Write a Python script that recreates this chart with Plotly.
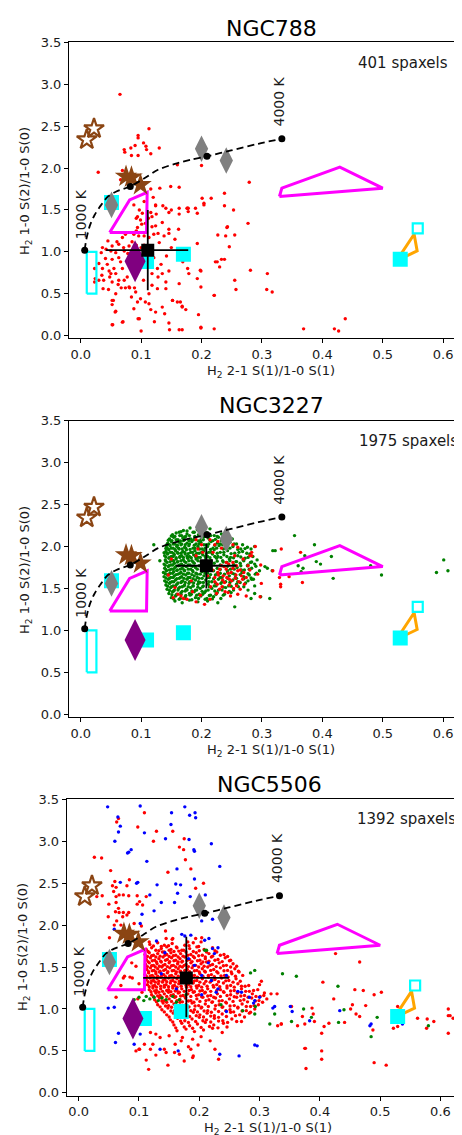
import plotly.graph_objects as go

W, H = 462, 1135

galaxies = ["NGC788", "NGC3227", "NGC5506"]
spaxel_labels = ["401 spaxels", "1975 spaxels", "1392 spaxels"]

x_ticks = [0.0, 0.1, 0.2, 0.3, 0.4, 0.5, 0.6]
x_ticklabels = ["0.0", "0.1", "0.2", "0.3", "0.4", "0.5", "0.6"]
y_ticks = [0.0, 0.5, 1.0, 1.5, 2.0, 2.5, 3.0, 3.5]
y_ticklabels = ["0.0", "0.5", "1.0", "1.5", "2.0", "2.5", "3.0", "3.5"]

# thermal emission curve (1000 K - 4000 K)
therm_x = [0.0066, 0.0093, 0.015, 0.023, 0.034, 0.045, 0.059, 0.082, 0.106, 0.128, 0.156, 0.183, 0.209, 0.249, 0.294, 0.333]
therm_y = [1.02, 1.15, 1.31, 1.44, 1.56, 1.66, 1.72, 1.78, 1.88, 1.98, 2.05, 2.10, 2.14, 2.21, 2.29, 2.35]
therm_dot_x = [0.0066, 0.082, 0.209, 0.333]
therm_dot_y = [1.02, 1.78, 2.14, 2.35]

# reference models / objects
open_star_x = [0.010, 0.022]
open_star_y = [2.34, 2.47]
star_x = [0.075, 0.084, 0.099]
star_y = [1.90, 1.89, 1.80]
gray_diamond_x = [0.051, 0.200, 0.241]
gray_diamond_y = [1.56, 2.23, 2.09]
cyan_sq_x = [0.051, 0.109, 0.170, 0.529]
cyan_sq_y = [1.59, 0.885, 0.97, 0.91]
cyan_open_x = [0.558]
cyan_open_y = [1.28]
purple_x = [0.090]
purple_y = [0.886]
cyan_rect_x = [0.010, 0.026, 0.026, 0.010, 0.010]
cyan_rect_y = [0.50, 0.50, 1.00, 1.00, 0.50]
mag1_x = [0.048, 0.081, 0.110, 0.109, 0.048]
mag1_y = [1.23, 1.62, 1.71, 1.23, 1.23]
mag2_x = [0.329, 0.333, 0.429, 0.500, 0.329]
mag2_y = [1.66, 1.76, 2.01, 1.76, 1.66]
orange_x = [0.523, 0.552, 0.557, 0.523]
orange_y = [0.894, 1.21, 1.01, 0.894]

# medians with ranges
med_x = [0.111, 0.208, 0.1785]
med_y = [1.02, 1.77, 1.37]
med_xlo = [0.042, 0.158, 0.107]
med_xhi = [0.178, 0.258, 0.249]
med_ylo = [0.54, 1.50, 0.90]
med_yhi = [1.50, 2.03, 1.86]

# ---------------- NGC788 spaxels (red) ----------------
ngc788_red = [
    (0.065, 2.88), (0.113, 2.47), (0.095, 2.39), (0.095, 2.36), (0.104, 2.30), (0.090, 2.27), (0.083, 2.24),
    (0.072, 2.22), (0.073, 2.19), (0.109, 2.22), (0.130, 2.24), (0.116, 2.17), (0.095, 2.15), (0.084, 2.15),
    (0.108, 2.26), (0.029, 1.95), (0.069, 1.97), (0.066, 1.86), (0.160, 2.04), (0.200, 2.03), (0.116, 1.75),
    (0.131, 1.76), (0.149, 1.78), (0.163, 1.77), (0.279, 1.83), (0.238, 1.70), (0.216, 1.64), (0.201, 1.64),
    (0.204, 1.58), (0.238, 1.55), (0.253, 1.50), (0.193, 1.46), (0.178, 1.52), (0.150, 1.50), (0.163, 1.45),
    (0.124, 1.56), (0.136, 1.55), (0.163, 1.52), (0.176, 1.52), (0.190, 1.52), (0.178, 1.48), (0.277, 1.34),
    (0.242, 1.29), (0.255, 1.20), (0.227, 1.20), (0.193, 1.10), (0.162, 1.27), (0.146, 1.22), (0.226, 0.88),
    (0.233, 0.91), (0.238, 0.91), (0.198, 0.78), (0.281, 0.78), (0.309, 0.74), (0.179, 0.74), (0.255, 0.66),
    (0.257, 0.55), (0.308, 0.55), (0.317, 0.52), (0.221, 0.48), (0.195, 0.25), (0.199, 0.09), (0.221, 0.08),
    (0.369, 0.08), (0.420, 0.08), (0.427, 0.055), (0.438, 0.20), (0.168, 0.07), (0.147, 0.07), (0.100, 0.055),
    (0.139, 0.26), (0.168, 0.35), (0.165, 0.40), (0.152, 0.42), (0.135, 0.34), (0.122, 0.165), (0.095, 0.20),
    (0.070, 0.165), (0.053, 0.13), (0.057, 0.28), (0.052, 0.37), (0.054, 0.42), (0.074, 0.57), (0.081, 0.57),
    (0.089, 0.57), (0.067, 0.57), (0.037, 0.56), (0.024, 0.68), (0.023, 0.80), (0.243, 1.30), (0.240, 1.19),
    (0.246, 1.06), (0.230, 0.82),
    (0.088, 1.56), (0.097, 1.50), (0.102, 1.46), (0.094, 1.42), (0.099, 1.38), (0.107, 1.34), (0.118, 1.42),
    (0.116, 1.47), (0.094, 1.29), (0.088, 1.21), (0.096, 1.19), (0.105, 1.19), (0.113, 1.17), (0.121, 1.21),
    (0.124, 1.31), (0.074, 1.21), (0.069, 1.17), (0.052, 1.07), (0.063, 1.09), (0.036, 1.05), (0.050, 1.01),
    (0.058, 0.99), (0.072, 1.01), (0.080, 1.07), (0.063, 0.93), (0.052, 0.91), (0.044, 0.85), (0.036, 0.80),
    (0.047, 0.77), (0.058, 0.74), (0.069, 0.80), (0.072, 0.66), (0.063, 0.66), (0.052, 0.64), (0.038, 0.66),
    (0.030, 0.66), (0.080, 0.58), (0.091, 0.52), (0.099, 0.44), (0.107, 0.40), (0.094, 0.40), (0.113, 0.38),
    (0.052, 0.42), (0.058, 0.29), (0.069, 0.16), (0.052, 0.13), (0.097, 0.20), (0.116, 0.31), (0.127, 0.56),
    (0.141, 0.64), (0.141, 0.56), (0.152, 0.42), (0.160, 0.40), (0.168, 0.34), (0.163, 0.62), (0.146, 0.77),
    (0.127, 0.80), (0.135, 0.74), (0.118, 0.74), (0.110, 0.88), (0.121, 0.93), (0.130, 1.11), (0.138, 1.19),
    (0.146, 1.27), (0.146, 1.47), (0.141, 1.52), (0.124, 1.55), (0.169, 0.88), (0.177, 0.80), (0.199, 0.77),
    (0.193, 0.68), (0.199, 0.58), (0.223, 0.88), (0.221, 0.48), (0.174, 0.31), (0.146, 0.15), (0.163, 0.07),
    (0.199, 0.10), (0.204, 1.56), (0.177, 1.52), (0.092, 1.08), (0.100, 1.05), (0.083, 0.91), (0.042, 1.03),
    (0.034, 0.99), (0.023, 0.64), (0.050, 0.74),
    (0.060, 1.12), (0.071, 1.05), (0.078, 0.98), (0.085, 1.12), (0.092, 1.25), (0.101, 1.33), (0.112, 1.40),
    (0.118, 1.30), (0.105, 1.08), (0.097, 0.95), (0.066, 0.88), (0.055, 0.80), (0.048, 0.70), (0.062, 0.61),
    (0.077, 0.70), (0.087, 0.75), (0.104, 0.66), (0.118, 0.60), (0.128, 0.70), (0.133, 0.85), (0.142, 0.95),
    (0.150, 1.05), (0.156, 1.15), (0.135, 1.35), (0.125, 1.45), (0.120, 1.65), (0.105, 1.60), (0.128, 1.22),
    (0.092, 1.40), (0.041, 0.92), (0.045, 1.13), (0.030, 0.86), (0.035, 0.72), (0.058, 0.50), (0.046, 0.55),
    (0.084, 0.46), (0.113, 0.50), (0.124, 0.28), (0.088, 0.32),
]

# ---------------- NGC3227 spaxels ----------------
ngc3227_green = [
    (0.170, 2.19), (0.181, 2.22), (0.193, 2.20), (0.204, 2.18), (0.214, 2.21), (0.163, 2.17),
    (0.152, 2.14), (0.158, 2.16), (0.167, 2.13), (0.176, 2.15), (0.186, 2.17), (0.195, 2.14), (0.207, 2.16),
    (0.221, 2.13), (0.233, 2.15), (0.243, 2.12),
    (0.147, 2.09), (0.154, 2.11), (0.161, 2.08), (0.169, 2.10), (0.174, 2.12), (0.182, 2.09), (0.190, 2.11),
    (0.199, 2.08), (0.211, 2.10), (0.219, 2.07), (0.228, 2.11), (0.239, 2.08), (0.251, 2.09),
    (0.144, 2.04), (0.150, 2.06), (0.156, 2.03), (0.163, 2.05), (0.170, 2.07), (0.176, 2.04), (0.184, 2.06),
    (0.191, 2.03), (0.199, 2.05), (0.208, 2.02), (0.216, 2.06), (0.226, 2.04), (0.235, 2.02), (0.247, 2.05),
    (0.258, 2.03),
    (0.142, 1.99), (0.148, 2.01), (0.153, 1.98), (0.159, 2.00), (0.166, 2.02), (0.172, 1.99), (0.179, 2.01),
    (0.186, 1.98), (0.194, 2.00), (0.201, 1.97), (0.210, 2.00), (0.219, 1.98), (0.229, 2.01), (0.240, 1.98),
    (0.252, 2.00), (0.265, 1.97), (0.276, 1.99),
    (0.141, 1.94), (0.146, 1.96), (0.151, 1.93), (0.157, 1.95), (0.163, 1.97), (0.169, 1.94), (0.175, 1.96),
    (0.182, 1.93), (0.189, 1.95), (0.196, 1.92), (0.204, 1.95), (0.212, 1.93), (0.221, 1.96), (0.231, 1.93),
    (0.243, 1.95), (0.255, 1.92), (0.268, 1.94), (0.280, 1.91),
    (0.139, 1.89), (0.144, 1.91), (0.150, 1.88), (0.155, 1.90), (0.161, 1.92), (0.167, 1.89), (0.173, 1.91),
    (0.180, 1.88), (0.187, 1.90), (0.194, 1.87), (0.202, 1.90), (0.210, 1.88), (0.218, 1.91), (0.227, 1.88),
    (0.237, 1.90), (0.248, 1.87), (0.260, 1.89), (0.272, 1.86), (0.285, 1.88),
    (0.140, 1.84), (0.146, 1.86), (0.152, 1.83), (0.158, 1.85), (0.164, 1.87), (0.170, 1.84), (0.177, 1.86),
    (0.184, 1.83), (0.191, 1.85), (0.199, 1.82), (0.207, 1.85), (0.216, 1.83), (0.225, 1.86), (0.235, 1.83),
    (0.246, 1.85), (0.257, 1.82), (0.269, 1.84), (0.281, 1.81), (0.292, 1.84),
    (0.138, 1.79), (0.143, 1.81), (0.149, 1.78), (0.155, 1.80), (0.161, 1.82), (0.167, 1.79), (0.174, 1.81),
    (0.181, 1.78), (0.188, 1.80), (0.196, 1.77), (0.221, 1.80), (0.231, 1.78), (0.242, 1.81), (0.253, 1.78),
    (0.264, 1.80), (0.276, 1.77), (0.288, 1.79),
    (0.139, 1.74), (0.145, 1.76), (0.150, 1.73), (0.156, 1.75), (0.162, 1.77), (0.168, 1.74), (0.175, 1.76),
    (0.182, 1.73), (0.190, 1.75), (0.226, 1.74), (0.237, 1.76), (0.248, 1.73), (0.259, 1.75), (0.271, 1.72),
    (0.283, 1.74), (0.296, 1.71),
    (0.137, 1.69), (0.142, 1.71), (0.148, 1.68), (0.154, 1.70), (0.160, 1.72), (0.166, 1.69), (0.172, 1.71),
    (0.179, 1.68), (0.186, 1.70), (0.193, 1.67), (0.201, 1.70), (0.210, 1.68), (0.220, 1.71), (0.231, 1.68),
    (0.243, 1.70), (0.255, 1.67), (0.267, 1.69), (0.279, 1.66), (0.291, 1.68),
    (0.138, 1.64), (0.144, 1.66), (0.149, 1.63), (0.155, 1.65), (0.161, 1.67), (0.167, 1.64), (0.174, 1.66),
    (0.181, 1.63), (0.188, 1.65), (0.196, 1.62), (0.204, 1.65), (0.213, 1.63), (0.223, 1.66), (0.234, 1.63),
    (0.246, 1.65), (0.258, 1.62), (0.270, 1.64), (0.283, 1.61),
    (0.139, 1.59), (0.145, 1.61), (0.151, 1.58), (0.157, 1.60), (0.163, 1.62), (0.169, 1.59), (0.176, 1.61),
    (0.183, 1.58), (0.190, 1.60), (0.198, 1.57), (0.207, 1.60), (0.217, 1.58), (0.228, 1.61), (0.240, 1.58),
    (0.252, 1.60), (0.264, 1.57), (0.277, 1.59),
    (0.141, 1.54), (0.147, 1.56), (0.153, 1.53), (0.159, 1.55), (0.166, 1.57), (0.172, 1.54), (0.179, 1.56),
    (0.186, 1.53), (0.194, 1.55), (0.202, 1.52), (0.211, 1.55), (0.221, 1.53), (0.232, 1.56), (0.245, 1.53),
    (0.258, 1.55), (0.270, 1.52),
    (0.143, 1.49), (0.149, 1.51), (0.155, 1.48), (0.162, 1.50), (0.168, 1.52), (0.175, 1.49), (0.182, 1.51),
    (0.190, 1.48), (0.198, 1.50), (0.207, 1.47), (0.217, 1.50), (0.228, 1.48), (0.240, 1.51), (0.253, 1.48),
    (0.146, 1.44), (0.152, 1.46), (0.159, 1.43), (0.166, 1.45), (0.173, 1.47), (0.180, 1.44), (0.188, 1.46),
    (0.196, 1.43), (0.205, 1.45), (0.215, 1.42), (0.226, 1.45), (0.238, 1.43), (0.249, 1.45),
    (0.150, 1.39), (0.157, 1.41), (0.165, 1.38), (0.173, 1.40), (0.181, 1.42), (0.190, 1.39), (0.199, 1.41),
    (0.209, 1.38), (0.220, 1.40), (0.232, 1.38),
    (0.156, 1.35), (0.168, 1.33), (0.180, 1.36), (0.194, 1.34), (0.210, 1.35), (0.227, 1.33), (0.255, 1.28),
    (0.121, 2.02), (0.131, 1.83), (0.318, 1.95), (0.317, 1.71), (0.298, 1.40), (0.277, 1.48), (0.286, 1.61),
    (0.288, 1.53),
    (0.354, 2.13), (0.322, 1.95), (0.387, 2.02), (0.371, 1.89), (0.415, 1.88), (0.390, 1.82), (0.397, 1.79),
    (0.360, 1.77), (0.368, 1.74), (0.365, 1.70), (0.418, 1.62), (0.498, 1.66), (0.480, 1.77), (0.288, 2.00),
    (0.282, 1.97), (0.305, 1.76), (0.309, 1.74), (0.313, 1.38), (0.288, 1.44), (0.282, 1.38), (0.601, 1.84),
    (0.589, 1.69), (0.608, 1.71), (0.622, 1.76), (0.629, 1.75), (0.624, 1.71),
]
ngc3227_green_fill = [
    (0.166, 2.175), (0.176, 2.185), (0.188, 2.17), (0.199, 2.18), (0.209, 2.165),
    (0.150, 2.125), (0.156, 2.12), (0.164, 2.13), (0.172, 2.115), (0.180, 2.13), (0.189, 2.12), (0.197, 2.13),
    (0.204, 2.115), (0.215, 2.13), (0.226, 2.12), (0.236, 2.13),
    (0.145, 2.075), (0.151, 2.07), (0.158, 2.08), (0.165, 2.065), (0.172, 2.08), (0.179, 2.07), (0.187, 2.08),
    (0.195, 2.065), (0.203, 2.08), (0.214, 2.07), (0.223, 2.085), (0.233, 2.07), (0.245, 2.08),
    (0.143, 2.025), (0.147, 2.02), (0.153, 2.03), (0.160, 2.015), (0.167, 2.03), (0.173, 2.02), (0.180, 2.03),
    (0.188, 2.015), (0.196, 2.03), (0.204, 2.02), (0.212, 2.03), (0.222, 2.015), (0.231, 2.03), (0.242, 2.02),
    (0.254, 2.03), (0.268, 2.02),
    (0.141, 1.975), (0.145, 1.97), (0.150, 1.98), (0.156, 1.965), (0.162, 1.98), (0.168, 1.97), (0.174, 1.98),
    (0.181, 1.965), (0.189, 1.98), (0.197, 1.97), (0.206, 1.98), (0.215, 1.965), (0.225, 1.98), (0.236, 1.97),
    (0.247, 1.98), (0.260, 1.965), (0.272, 1.975),
    (0.138, 1.925), (0.143, 1.92), (0.148, 1.93), (0.154, 1.915), (0.160, 1.93), (0.166, 1.92), (0.172, 1.93),
    (0.178, 1.915), (0.185, 1.93), (0.192, 1.92), (0.200, 1.93), (0.208, 1.915), (0.216, 1.93), (0.226, 1.92),
    (0.237, 1.93), (0.249, 1.915), (0.262, 1.93), (0.275, 1.92),
    (0.141, 1.875), (0.147, 1.87), (0.153, 1.88), (0.158, 1.865), (0.164, 1.88), (0.170, 1.87), (0.176, 1.88),
    (0.183, 1.865), (0.190, 1.88), (0.198, 1.87), (0.206, 1.88), (0.214, 1.865), (0.222, 1.88), (0.232, 1.87),
    (0.242, 1.88), (0.253, 1.865), (0.265, 1.875), (0.277, 1.87),
    (0.141, 1.825), (0.148, 1.82), (0.154, 1.83), (0.160, 1.815), (0.166, 1.83), (0.172, 1.82), (0.179, 1.83),
    (0.186, 1.815), (0.194, 1.83), (0.226, 1.825), (0.236, 1.815), (0.247, 1.83), (0.258, 1.82), (0.270, 1.83),
    (0.283, 1.815),
    (0.140, 1.775), (0.146, 1.77), (0.152, 1.78), (0.158, 1.765), (0.164, 1.78), (0.171, 1.77), (0.178, 1.78),
    (0.185, 1.765), (0.232, 1.775), (0.243, 1.765), (0.254, 1.78), (0.265, 1.77), (0.277, 1.78), (0.290, 1.765),
    (0.141, 1.725), (0.147, 1.72), (0.153, 1.73), (0.159, 1.715), (0.165, 1.73), (0.171, 1.72), (0.178, 1.73),
    (0.185, 1.715), (0.193, 1.73), (0.200, 1.725), (0.231, 1.725), (0.243, 1.715), (0.254, 1.73), (0.266, 1.72),
    (0.279, 1.73),
    (0.140, 1.675), (0.146, 1.67), (0.152, 1.68), (0.158, 1.665), (0.164, 1.68), (0.170, 1.67), (0.177, 1.68),
    (0.184, 1.665), (0.191, 1.68), (0.198, 1.67), (0.206, 1.68), (0.215, 1.665), (0.226, 1.68), (0.238, 1.67),
    (0.251, 1.68), (0.264, 1.665), (0.277, 1.675), (0.289, 1.67),
    (0.141, 1.625), (0.147, 1.62), (0.153, 1.63), (0.159, 1.615), (0.165, 1.63), (0.171, 1.62), (0.178, 1.63),
    (0.186, 1.615), (0.193, 1.63), (0.201, 1.62), (0.210, 1.63), (0.220, 1.615), (0.231, 1.63), (0.243, 1.62),
    (0.256, 1.63), (0.270, 1.615), (0.282, 1.625),
    (0.142, 1.575), (0.148, 1.57), (0.154, 1.58), (0.161, 1.565), (0.167, 1.58), (0.173, 1.57), (0.180, 1.58),
    (0.187, 1.565), (0.195, 1.58), (0.203, 1.57), (0.212, 1.58), (0.223, 1.565), (0.234, 1.58), (0.247, 1.57),
    (0.260, 1.58), (0.273, 1.565),
    (0.144, 1.525), (0.150, 1.52), (0.157, 1.53), (0.164, 1.515), (0.171, 1.53), (0.178, 1.52), (0.186, 1.53),
    (0.194, 1.515), (0.203, 1.53), (0.213, 1.52), (0.224, 1.53), (0.236, 1.515), (0.249, 1.525), (0.261, 1.52),
    (0.147, 1.475), (0.154, 1.47), (0.161, 1.48), (0.168, 1.465), (0.176, 1.48), (0.184, 1.47), (0.192, 1.48),
    (0.201, 1.465), (0.211, 1.48), (0.222, 1.47), (0.234, 1.48), (0.246, 1.465),
    (0.151, 1.425), (0.158, 1.42), (0.166, 1.43), (0.174, 1.415), (0.183, 1.43), (0.192, 1.42), (0.202, 1.43),
    (0.213, 1.415), (0.224, 1.43), (0.236, 1.42),
    (0.154, 1.375), (0.163, 1.37), (0.173, 1.38), (0.184, 1.365), (0.195, 1.38), (0.206, 1.37), (0.218, 1.375),
]
ngc3227_red = [
    (0.191, 2.08), (0.200, 2.02), (0.194, 1.97), (0.202, 1.93), (0.191, 1.89), (0.214, 2.08), (0.222, 2.02),
    (0.227, 2.06), (0.233, 1.77), (0.241, 1.73), (0.249, 1.69), (0.260, 1.71), (0.266, 1.65), (0.246, 1.61),
    (0.238, 1.57), (0.258, 1.53), (0.271, 1.55), (0.277, 1.77), (0.252, 1.81), (0.230, 1.49), (0.244, 1.45),
    (0.260, 1.43), (0.222, 1.63), (0.227, 1.69), (0.236, 1.65), (0.241, 1.81), (0.255, 1.89), (0.260, 1.99),
    (0.269, 1.85), (0.283, 1.89), (0.274, 1.41), (0.214, 1.37), (0.205, 1.31), (0.191, 1.34), (0.161, 1.43),
    (0.153, 1.39), (0.170, 1.38), (0.156, 1.51), (0.183, 1.59), (0.145, 1.66), (0.150, 1.85), (0.219, 1.93),
    (0.252, 2.02), (0.233, 1.98),
    (0.230, 1.73), (0.238, 1.76), (0.245, 1.79), (0.252, 1.74), (0.258, 1.77), (0.264, 1.72), (0.270, 1.69),
    (0.235, 1.60), (0.242, 1.63), (0.250, 1.59), (0.256, 1.62), (0.262, 1.58), (0.268, 1.61), (0.226, 1.55),
    (0.234, 1.52), (0.246, 1.54), (0.253, 1.50), (0.264, 1.49), (0.222, 1.58), (0.228, 1.66), (0.244, 1.68),
    (0.257, 1.66), (0.218, 1.72), (0.210, 1.65), (0.215, 1.52), (0.274, 1.63), (0.280, 1.72), (0.239, 1.46),
    (0.248, 1.41), (0.225, 1.44), (0.198, 1.42), (0.185, 1.46), (0.166, 1.41), (0.176, 1.37),
    (0.332, 1.97), (0.364, 1.93), (0.318, 1.71), (0.329, 1.63), (0.331, 1.55), (0.331, 1.52), (0.345, 1.64),
    (0.367, 1.57), (0.298, 1.78), (0.293, 1.67), (0.299, 1.56), (0.297, 1.40), (0.283, 1.93), (0.280, 1.89),
    (0.289, 2.00),
]

# ---------------- NGC5506 spaxels ----------------
ngc5506_green = [
    (0.092, 1.11), (0.100, 1.14), (0.108, 1.10), (0.112, 1.15), (0.118, 1.12), (0.125, 1.14), (0.132, 1.10),
    (0.138, 1.13), (0.145, 1.11), (0.156, 1.15), (0.162, 1.08), (0.167, 1.11), (0.178, 1.17), (0.209, 1.70),
    (0.236, 1.05), (0.272, 0.98), (0.212, 1.70),
    (0.285, 1.43), (0.292, 1.46), (0.338, 1.42), (0.361, 1.39), (0.430, 1.27), (0.373, 1.00), (0.353, 0.85),
    (0.386, 0.90), (0.495, 0.90), (0.485, 0.67), (0.431, 0.84), (0.440, 0.99), (0.626, 1.03), (0.645, 0.90),
    (0.580, 0.80), (0.325, 0.94), (0.317, 0.82), (0.292, 0.94), (0.293, 1.03),
]
ngc5506_red = [
    # upper sparse region
    (0.109, 3.34), (0.066, 3.27), (0.063, 3.23), (0.098, 3.17), (0.129, 3.12), (0.156, 3.12), (0.124, 3.00),
    (0.175, 3.03), (0.167, 2.93), (0.174, 2.90), (0.177, 2.78), (0.026, 2.81), (0.038, 2.80), (0.053, 2.65),
    (0.148, 2.63), (0.186, 2.67), (0.207, 2.50), (0.194, 2.44), (0.060, 2.52), (0.056, 2.47), (0.062, 2.45),
    (0.058, 2.40), (0.067, 2.36), (0.062, 2.34), (0.084, 2.54), (0.080, 2.47), (0.074, 2.36), (0.083, 2.35),
    (0.097, 2.35), (0.112, 2.34), (0.101, 2.28), (0.039, 2.35), (0.030, 2.34), (0.050, 2.25), (0.062, 2.27),
    (0.066, 2.20), (0.061, 2.16), (0.067, 2.15), (0.074, 2.15), (0.083, 2.15), (0.080, 2.12), (0.073, 2.10),
    (0.097, 2.25), (0.106, 2.24), (0.049, 2.10), (0.063, 2.05), (0.059, 2.00), (0.070, 2.00), (0.092, 2.02),
    (0.104, 1.99), (0.051, 1.85), (0.144, 1.93), (0.156, 1.84), (0.194, 1.84), (0.204, 1.85), (0.117, 1.80),
    (0.145, 1.84), (0.155, 1.83), (0.181, 1.80), (0.203, 1.80),
    # dense core
    (0.118, 1.77), (0.131, 1.79), (0.142, 1.76), (0.155, 1.78), (0.176, 1.76), (0.190, 1.79),
    (0.112, 1.71), (0.121, 1.73), (0.128, 1.70), (0.137, 1.72), (0.146, 1.74), (0.153, 1.71), (0.163, 1.73),
    (0.171, 1.70), (0.184, 1.72), (0.196, 1.74), (0.208, 1.71), (0.222, 1.73),
    (0.110, 1.65), (0.117, 1.67), (0.124, 1.64), (0.131, 1.66), (0.139, 1.68), (0.146, 1.65), (0.153, 1.67),
    (0.161, 1.64), (0.169, 1.66), (0.178, 1.68), (0.186, 1.65), (0.195, 1.67), (0.205, 1.64), (0.216, 1.66),
    (0.229, 1.68), (0.241, 1.65),
    (0.112, 1.59), (0.119, 1.61), (0.126, 1.58), (0.133, 1.60), (0.140, 1.62), (0.147, 1.59), (0.154, 1.61),
    (0.161, 1.58), (0.168, 1.60), (0.176, 1.62), (0.184, 1.59), (0.192, 1.61), (0.201, 1.58), (0.210, 1.60),
    (0.220, 1.62), (0.231, 1.59), (0.243, 1.61), (0.252, 1.58),
    (0.111, 1.53), (0.117, 1.55), (0.124, 1.52), (0.130, 1.54), (0.137, 1.56), (0.143, 1.53), (0.150, 1.55),
    (0.157, 1.52), (0.164, 1.54), (0.171, 1.56), (0.178, 1.53), (0.186, 1.55), (0.194, 1.52), (0.203, 1.54),
    (0.212, 1.56), (0.222, 1.53), (0.233, 1.55), (0.245, 1.52), (0.256, 1.54),
    (0.113, 1.47), (0.119, 1.49), (0.125, 1.46), (0.131, 1.48), (0.138, 1.50), (0.144, 1.47), (0.151, 1.49),
    (0.158, 1.46), (0.165, 1.48), (0.172, 1.50), (0.180, 1.47), (0.188, 1.49), (0.196, 1.46), (0.205, 1.48),
    (0.214, 1.50), (0.224, 1.47), (0.235, 1.49), (0.247, 1.46), (0.259, 1.48),
    (0.110, 1.41), (0.116, 1.43), (0.122, 1.40), (0.128, 1.42), (0.134, 1.44), (0.141, 1.41), (0.147, 1.43),
    (0.154, 1.40), (0.161, 1.42), (0.168, 1.44), (0.176, 1.41), (0.184, 1.43), (0.192, 1.40), (0.201, 1.42),
    (0.210, 1.44), (0.220, 1.41), (0.231, 1.43), (0.242, 1.40), (0.254, 1.42), (0.266, 1.44),
    (0.112, 1.35), (0.118, 1.37), (0.124, 1.34), (0.130, 1.36), (0.136, 1.38), (0.143, 1.35), (0.149, 1.37),
    (0.156, 1.34), (0.163, 1.36), (0.171, 1.38), (0.179, 1.35), (0.187, 1.37), (0.196, 1.34), (0.205, 1.36),
    (0.215, 1.38), (0.226, 1.35), (0.237, 1.37), (0.249, 1.34), (0.261, 1.36),
    (0.114, 1.29), (0.120, 1.31), (0.126, 1.28), (0.132, 1.30), (0.139, 1.32), (0.145, 1.29), (0.152, 1.31),
    (0.159, 1.28), (0.166, 1.30), (0.174, 1.32), (0.182, 1.29), (0.190, 1.31), (0.199, 1.28), (0.208, 1.30),
    (0.218, 1.32), (0.229, 1.29), (0.240, 1.31), (0.252, 1.28), (0.264, 1.30), (0.276, 1.27),
    (0.117, 1.23), (0.123, 1.25), (0.129, 1.22), (0.136, 1.24), (0.142, 1.26), (0.149, 1.23), (0.156, 1.25),
    (0.163, 1.22), (0.171, 1.24), (0.179, 1.26), (0.187, 1.23), (0.196, 1.25), (0.205, 1.22), (0.214, 1.24),
    (0.224, 1.26), (0.235, 1.23), (0.246, 1.25), (0.258, 1.22), (0.270, 1.24), (0.283, 1.21),
    (0.121, 1.17), (0.128, 1.19), (0.135, 1.16), (0.142, 1.18), (0.149, 1.20), (0.157, 1.17), (0.165, 1.19),
    (0.173, 1.16), (0.181, 1.18), (0.190, 1.20), (0.199, 1.17), (0.209, 1.19), (0.219, 1.16), (0.230, 1.18),
    (0.241, 1.20), (0.252, 1.17), (0.263, 1.19), (0.275, 1.16), (0.288, 1.18), (0.301, 1.15),
    (0.126, 1.11), (0.134, 1.13), (0.142, 1.10), (0.150, 1.12), (0.159, 1.14), (0.168, 1.11), (0.177, 1.13),
    (0.186, 1.10), (0.196, 1.12), (0.206, 1.14), (0.216, 1.11), (0.227, 1.13), (0.238, 1.10), (0.250, 1.12),
    (0.262, 1.14), (0.274, 1.11), (0.287, 1.13), (0.299, 1.10), (0.312, 1.12),
    (0.131, 1.05), (0.140, 1.07), (0.149, 1.04), (0.158, 1.06), (0.168, 1.08), (0.178, 1.05), (0.188, 1.07),
    (0.199, 1.04), (0.210, 1.06), (0.221, 1.08), (0.233, 1.05), (0.245, 1.07), (0.258, 1.04), (0.271, 1.06),
    (0.285, 1.03), (0.298, 1.05),
    (0.138, 0.99), (0.148, 1.01), (0.159, 0.98), (0.170, 1.00), (0.181, 1.02), (0.192, 0.99), (0.203, 1.01),
    (0.214, 0.98), (0.226, 1.00), (0.238, 1.02), (0.251, 0.99), (0.264, 1.01), (0.278, 0.98), (0.292, 1.00),
    (0.146, 0.93), (0.157, 0.95), (0.168, 0.92), (0.179, 0.94), (0.190, 0.96), (0.201, 0.93), (0.213, 0.95),
    (0.225, 0.92), (0.238, 0.94), (0.252, 0.96), (0.267, 0.93), (0.283, 0.95),
    (0.152, 0.87), (0.164, 0.89), (0.176, 0.86), (0.188, 0.88), (0.200, 0.90), (0.212, 0.87), (0.225, 0.89),
    (0.239, 0.86), (0.254, 0.88), (0.270, 0.85),
    (0.158, 0.81), (0.171, 0.83), (0.184, 0.80), (0.197, 0.82), (0.210, 0.84), (0.224, 0.81), (0.240, 0.83),
    (0.163, 0.74), (0.178, 0.76), (0.192, 0.73), (0.207, 0.75), (0.222, 0.77), (0.238, 0.72),
    # lower sparse
    (0.150, 0.68), (0.172, 0.66), (0.189, 0.64), (0.203, 0.67), (0.218, 0.62), (0.160, 0.58), (0.182, 0.55),
    (0.198, 0.57), (0.226, 0.52), (0.142, 0.52), (0.167, 0.46), (0.190, 0.44), (0.128, 0.45), (0.116, 0.28),
    (0.112, 0.39), (0.101, 0.52), (0.123, 0.58), (0.145, 0.48), (0.159, 0.48), (0.189, 0.42), (0.186, 0.52),
    (0.170, 0.62), (0.128, 0.70), (0.109, 0.58), (0.095, 0.50), (0.148, 0.33), (0.175, 0.38), (0.232, 0.40),
    # left side
    (0.074, 1.37), (0.085, 1.38), (0.062, 1.14), (0.070, 1.28), (0.088, 1.55), (0.095, 1.51), (0.089, 1.37),
    (0.076, 1.39), (0.100, 1.30), (0.105, 1.20), (0.098, 1.12), (0.119, 0.72), (0.119, 0.52), (0.100, 0.52),
    (0.135, 0.66), (0.105, 0.87), (0.110, 0.95), (0.095, 0.79),
    # right tail
    (0.297, 1.23), (0.308, 1.19), (0.319, 1.18), (0.303, 1.33), (0.336, 0.82), (0.330, 0.80),
    (0.426, 1.66), (0.466, 1.56), (0.405, 1.32), (0.458, 1.23), (0.472, 1.22), (0.490, 1.17), (0.502, 1.20),
    (0.423, 1.12), (0.454, 1.05), (0.451, 1.00), (0.476, 1.04), (0.460, 0.94), (0.466, 0.91), (0.441, 0.84),
    (0.415, 0.83), (0.407, 0.79), (0.403, 0.71), (0.488, 0.75), (0.522, 0.77), (0.529, 0.79), (0.529, 1.03),
    (0.562, 0.89), (0.578, 0.88), (0.589, 0.85), (0.577, 0.77), (0.613, 0.92), (0.616, 0.92), (0.621, 0.89),
    (0.613, 0.71), (0.635, 1.33), (0.376, 0.53), (0.403, 0.50), (0.387, 1.01), (0.389, 0.94), (0.371, 0.91),
    (0.336, 0.82), (0.363, 0.80), (0.375, 0.82), (0.391, 0.85), (0.353, 1.03), (0.329, 1.18), (0.300, 1.29),
    (0.613, 1.00), (0.490, 0.36), (0.510, 0.33), (0.377, 0.29), (0.403, 0.40), (0.375, 0.53),
]
ngc5506_red_fill = [
    (0.124, 1.75), (0.137, 1.745), (0.149, 1.755), (0.162, 1.74), (0.183, 1.755), (0.199, 1.745),
    (0.115, 1.685), (0.133, 1.695), (0.142, 1.68), (0.150, 1.70), (0.158, 1.685), (0.166, 1.69), (0.174, 1.70),
    (0.190, 1.685), (0.200, 1.695), (0.212, 1.68), (0.226, 1.695),
    (0.114, 1.625), (0.121, 1.635), (0.128, 1.62), (0.135, 1.63), (0.143, 1.64), (0.150, 1.625), (0.157, 1.635),
    (0.165, 1.62), (0.173, 1.63), (0.181, 1.64), (0.190, 1.625), (0.199, 1.635), (0.210, 1.62), (0.222, 1.63),
    (0.235, 1.64), (0.247, 1.625),
    (0.115, 1.565), (0.122, 1.575), (0.129, 1.56), (0.136, 1.57), (0.144, 1.58), (0.151, 1.565), (0.158, 1.575),
    (0.165, 1.56), (0.172, 1.57), (0.180, 1.58), (0.188, 1.565), (0.197, 1.575), (0.206, 1.56), (0.216, 1.57),
    (0.226, 1.58), (0.238, 1.565), (0.250, 1.575),
    (0.114, 1.505), (0.121, 1.515), (0.127, 1.50), (0.134, 1.51), (0.140, 1.52), (0.147, 1.505), (0.154, 1.515),
    (0.161, 1.50), (0.168, 1.51), (0.175, 1.52), (0.182, 1.505), (0.190, 1.515), (0.199, 1.50), (0.208, 1.51),
    (0.218, 1.52), (0.228, 1.505), (0.240, 1.515), (0.252, 1.50), (0.262, 1.51),
    (0.116, 1.445), (0.122, 1.455), (0.128, 1.44), (0.135, 1.45), (0.141, 1.46), (0.148, 1.445), (0.155, 1.455),
    (0.162, 1.44), (0.169, 1.45), (0.176, 1.46), (0.184, 1.445), (0.192, 1.455), (0.200, 1.44), (0.209, 1.45),
    (0.219, 1.46), (0.229, 1.445), (0.241, 1.455), (0.253, 1.44), (0.265, 1.45),
    (0.113, 1.385), (0.119, 1.395), (0.125, 1.38), (0.131, 1.39), (0.138, 1.40), (0.144, 1.385), (0.151, 1.395),
    (0.158, 1.38), (0.165, 1.39), (0.172, 1.40), (0.180, 1.385), (0.188, 1.395), (0.197, 1.38), (0.206, 1.39),
    (0.215, 1.40), (0.225, 1.385), (0.236, 1.395), (0.248, 1.38), (0.260, 1.39), (0.272, 1.40),
    (0.115, 1.325), (0.121, 1.335), (0.127, 1.32), (0.133, 1.33), (0.140, 1.34), (0.146, 1.325), (0.153, 1.335),
    (0.160, 1.32), (0.167, 1.33), (0.175, 1.34), (0.183, 1.325), (0.192, 1.335), (0.201, 1.32), (0.211, 1.33),
    (0.221, 1.34), (0.232, 1.325), (0.244, 1.335), (0.256, 1.32), (0.268, 1.33),
    (0.117, 1.265), (0.123, 1.275), (0.129, 1.26), (0.136, 1.27), (0.142, 1.28), (0.149, 1.265), (0.156, 1.275),
    (0.163, 1.26), (0.170, 1.27), (0.178, 1.28), (0.186, 1.265), (0.195, 1.275), (0.204, 1.26), (0.213, 1.27),
    (0.223, 1.28), (0.234, 1.265), (0.246, 1.275), (0.258, 1.26), (0.270, 1.27), (0.282, 1.28),
    (0.120, 1.205), (0.126, 1.215), (0.133, 1.20), (0.139, 1.21), (0.146, 1.22), (0.153, 1.205), (0.160, 1.215),
    (0.167, 1.20), (0.175, 1.21), (0.183, 1.22), (0.192, 1.205), (0.201, 1.215), (0.210, 1.20), (0.219, 1.21),
    (0.229, 1.22), (0.240, 1.205), (0.252, 1.215), (0.264, 1.20), (0.277, 1.21), (0.290, 1.22),
    (0.124, 1.145), (0.131, 1.155), (0.138, 1.14), (0.146, 1.15), (0.153, 1.16), (0.161, 1.145), (0.169, 1.155),
    (0.177, 1.14), (0.186, 1.15), (0.195, 1.16), (0.204, 1.145), (0.214, 1.155), (0.224, 1.14), (0.235, 1.15),
    (0.246, 1.16), (0.258, 1.145), (0.269, 1.155), (0.281, 1.14), (0.294, 1.15), (0.307, 1.16),
    (0.129, 1.085), (0.138, 1.095), (0.146, 1.08), (0.154, 1.09), (0.163, 1.10), (0.172, 1.085), (0.182, 1.095),
    (0.191, 1.08), (0.201, 1.09), (0.211, 1.10), (0.222, 1.085), (0.233, 1.095), (0.244, 1.08), (0.256, 1.09),
    (0.268, 1.10), (0.280, 1.085), (0.293, 1.095), (0.305, 1.08),
    (0.135, 1.025), (0.144, 1.035), (0.154, 1.02), (0.163, 1.03), (0.173, 1.04), (0.183, 1.025), (0.193, 1.035),
    (0.204, 1.02), (0.215, 1.03), (0.227, 1.04), (0.239, 1.025), (0.251, 1.035), (0.264, 1.02), (0.278, 1.03),
    (0.291, 1.04),
    (0.142, 0.965), (0.153, 0.975), (0.164, 0.96), (0.175, 0.97), (0.186, 0.98), (0.197, 0.965), (0.208, 0.975),
    (0.220, 0.96), (0.232, 0.97), (0.244, 0.98), (0.257, 0.965), (0.271, 0.975), (0.285, 0.96),
    (0.150, 0.905), (0.162, 0.915), (0.173, 0.90), (0.184, 0.91), (0.195, 0.92), (0.207, 0.905), (0.219, 0.915),
    (0.232, 0.90), (0.245, 0.91), (0.260, 0.92), (0.275, 0.905),
    (0.156, 0.845), (0.169, 0.855), (0.182, 0.84), (0.194, 0.85), (0.206, 0.86), (0.219, 0.845), (0.232, 0.855),
    (0.247, 0.84), (0.262, 0.85),
    (0.161, 0.775), (0.175, 0.785), (0.189, 0.77), (0.203, 0.78), (0.217, 0.79), (0.231, 0.775), (0.246, 0.785),
]
ngc5506_blue = [
    (0.048, 3.41), (0.102, 3.42), (0.065, 3.29), (0.069, 3.18), (0.066, 3.11), (0.060, 3.00), (0.109, 3.10),
    (0.154, 3.34), (0.176, 3.41), (0.193, 3.34), (0.184, 3.31), (0.194, 3.28), (0.153, 3.20), (0.144, 3.03),
    (0.183, 3.02), (0.191, 2.90), (0.192, 2.88), (0.220, 2.97), (0.087, 2.90), (0.083, 2.87), (0.081, 2.86),
    (0.113, 2.76), (0.234, 2.70), (0.163, 2.67), (0.069, 2.51), (0.096, 2.50), (0.098, 2.51), (0.130, 2.48),
    (0.161, 2.49), (0.169, 2.48), (0.192, 2.55), (0.118, 2.36), (0.164, 2.38), (0.159, 2.27), (0.137, 2.27),
    (0.185, 2.34), (0.210, 2.36), (0.200, 2.26), (0.105, 2.13), (0.125, 2.17), (0.204, 2.05), (0.222, 2.07),
    (0.059, 1.95), (0.102, 2.02), (0.171, 1.89), (0.186, 1.88), (0.216, 1.84), (0.129, 1.81),
    (0.215, 1.55), (0.231, 1.24), (0.228, 1.20), (0.204, 1.40), (0.182, 1.60), (0.162, 1.24), (0.143, 1.67),
    (0.137, 1.42), (0.270, 1.20), (0.292, 1.10), (0.204, 1.17), (0.176, 1.87), (0.192, 1.52), (0.225, 1.66),
    (0.245, 1.40), (0.220, 1.34), (0.222, 1.72), (0.231, 1.73), (0.209, 1.82), (0.264, 1.21), (0.245, 0.97),
    (0.049, 1.01), (0.059, 1.02), (0.066, 0.71), (0.061, 0.60), (0.092, 0.58), (0.102, 0.70), (0.165, 0.50),
    (0.135, 0.52), (0.234, 0.46), (0.266, 0.44), (0.292, 0.57), (0.296, 0.56), (0.322, 1.01), (0.325, 1.03),
    (0.351, 1.03), (0.354, 0.97), (0.383, 0.86), (0.433, 0.98), (0.485, 0.82), (0.483, 0.80), (0.537, 0.82),
    (0.283, 1.14), (0.300, 1.14), (0.290, 1.07),
]

panel_points = [
    [("red", ngc788_red)],
    [("green", ngc3227_green + ngc3227_green_fill), ("red", ngc3227_red)],
    [("red", ngc5506_red + ngc5506_red_fill), ("green", ngc5506_green), ("blue", ngc5506_blue)],
]

# ---------------- layout geometry (pixels) ----------------
panel_top = [27.7, 410.0, 792.7]
panel_bot = [326.7, 710.0, 1092.3]
panel_left = [61.0, 61.0, 58.7]
x_ranges = [[-0.0194, 0.6445], [-0.0194, 0.6445], [-0.0199, 0.649]]
y_ranges = [[-0.032, 3.5], [-0.039, 3.5], [-0.035, 3.5]]
title_pos = [(263, 14), (263, 395), (261, 778)]
xlabel_pos = [(263, 360), (263, 743), (260, 1125)]
ylabel_pos = [(17, 178), (17, 561), (15, 942)]
spax_pos = [(0.534, 3.26), (0.542, 3.26), (0.543, 3.26)]

FONT = "DejaVu Sans"
TXT = "#1a1a1a"


def px_x(p):
    return p / W


def px_y(p):
    return 1 - p / H


fig = go.Figure()
layout_axes = {}
annotations = []

for i in range(3):
    xa = "x" if i == 0 else f"x{i + 1}"
    ya = "y" if i == 0 else f"y{i + 1}"
    xkey = "xaxis" if i == 0 else f"xaxis{i + 1}"
    ykey = "yaxis" if i == 0 else f"yaxis{i + 1}"
    layout_axes[xkey] = dict(
        domain=[px_x(panel_left[i]), 1.0], range=x_ranges[i], anchor=ya,
        showline=True, mirror=True, linecolor="black", linewidth=1,
        ticks="outside", ticklen=4, tickwidth=1, tickcolor="black",
        tickvals=x_ticks, ticktext=x_ticklabels, showgrid=False, zeroline=False,
        tickfont=dict(family=FONT, size=13, color=TXT),
    )
    layout_axes[ykey] = dict(
        domain=[px_y(panel_bot[i]), px_y(panel_top[i])], range=y_ranges[i], anchor=xa,
        showline=True, mirror=False, linecolor="black", linewidth=1,
        ticks="outside", ticklen=4, tickwidth=1, tickcolor="black",
        tickvals=y_ticks, ticktext=y_ticklabels, showgrid=False, zeroline=False,
        tickfont=dict(family=FONT, size=13, color=TXT),
    )

    # spaxel clouds
    for color, pts in panel_points[i]:
        fig.add_trace(go.Scatter(
            x=[p[0] for p in pts], y=[p[1] for p in pts], mode="markers",
            marker=dict(color=color, size=3.4, line=dict(width=0)),
            xaxis=xa, yaxis=ya, hoverinfo="skip"))

    # outlines: magenta polygons, cyan rectangle, orange triangle
    for px_, py_, col in [(mag1_x, mag1_y, "magenta"), (mag2_x, mag2_y, "magenta"),
                          (cyan_rect_x, cyan_rect_y, "cyan"), (orange_x, orange_y, "orange")]:
        fig.add_trace(go.Scatter(x=px_, y=py_, mode="lines",
                                 line=dict(color=col, width=3 if col != "cyan" else 2.2),
                                 xaxis=xa, yaxis=ya, hoverinfo="skip"))

    # cyan squares
    fig.add_trace(go.Scatter(x=cyan_sq_x, y=cyan_sq_y, mode="markers",
                             marker=dict(symbol="square", color="cyan", size=15, line=dict(width=0)),
                             xaxis=xa, yaxis=ya, hoverinfo="skip"))
    fig.add_trace(go.Scatter(x=cyan_open_x, y=cyan_open_y, mode="markers",
                             marker=dict(symbol="square-open", color="cyan", size=10,
                                         line=dict(width=2.2, color="cyan")),
                             xaxis=xa, yaxis=ya, hoverinfo="skip"))
    # stars
    fig.add_trace(go.Scatter(x=open_star_x, y=open_star_y, mode="markers",
                             marker=dict(symbol="star-open", color="#8B4513", size=15,
                                         line=dict(width=2.2, color="#8B4513")),
                             xaxis=xa, yaxis=ya, hoverinfo="skip"))
    fig.add_trace(go.Scatter(x=star_x, y=star_y, mode="markers",
                             marker=dict(symbol="star", color="#8B4513", size=17, line=dict(width=0)),
                             xaxis=xa, yaxis=ya, hoverinfo="skip"))
    # diamonds
    fig.add_trace(go.Scatter(x=gray_diamond_x, y=gray_diamond_y, mode="markers",
                             marker=dict(symbol="diamond-tall", color="gray", size=19, line=dict(width=0)),
                             xaxis=xa, yaxis=ya, hoverinfo="skip"))
    fig.add_trace(go.Scatter(x=purple_x, y=purple_y, mode="markers",
                             marker=dict(symbol="diamond-tall", color="purple", size=30, line=dict(width=0)),
                             xaxis=xa, yaxis=ya, hoverinfo="skip"))
    # thermal curve
    fig.add_trace(go.Scatter(x=therm_x, y=therm_y, mode="lines",
                             line=dict(color="black", width=1.8, dash="7px,4px", shape="spline", smoothing=0.8),
                             xaxis=xa, yaxis=ya, hoverinfo="skip"))
    fig.add_trace(go.Scatter(x=therm_dot_x, y=therm_dot_y, mode="markers",
                             marker=dict(color="black", size=7),
                             xaxis=xa, yaxis=ya, hoverinfo="skip"))
    # median with range
    fig.add_trace(go.Scatter(
        x=[med_x[i]], y=[med_y[i]], mode="markers",
        marker=dict(symbol="square", color="black", size=13),
        error_x=dict(type="data", symmetric=False, array=[med_xhi[i] - med_x[i]],
                     arrayminus=[med_x[i] - med_xlo[i]], color="black", thickness=1.8, width=0),
        error_y=dict(type="data", symmetric=False, array=[med_yhi[i] - med_y[i]],
                     arrayminus=[med_y[i] - med_ylo[i]], color="black", thickness=1.8, width=0),
        xaxis=xa, yaxis=ya, hoverinfo="skip"))

    # texts
    annotations.append(dict(text="1000 K", x=0.0, y=1.445, xref=xa, yref=ya, textangle=-90,
                            showarrow=False, font=dict(family=FONT, size=14, color=TXT)))
    annotations.append(dict(text="4000 K", x=0.329, y=2.80, xref=xa, yref=ya, textangle=-90,
                            showarrow=False, font=dict(family=FONT, size=14, color=TXT)))
    annotations.append(dict(text=spaxel_labels[i], x=spax_pos[i][0], y=spax_pos[i][1], xref=xa, yref=ya,
                            showarrow=False, font=dict(family=FONT, size=15, color=TXT)))
    annotations.append(dict(text=galaxies[i], x=px_x(title_pos[i][0]), y=px_y(title_pos[i][1]),
                            xref="paper", yref="paper", showarrow=False, xanchor="center", yanchor="middle",
                            font=dict(family=FONT, size=22, color="black")))
    annotations.append(dict(text="H<sub>2</sub> 2-1 S(1)/1-0 S(1)", x=px_x(xlabel_pos[i][0]),
                            y=px_y(xlabel_pos[i][1]), xref="paper", yref="paper", showarrow=False,
                            xanchor="center", yanchor="middle", font=dict(family=FONT, size=13, color=TXT)))
    annotations.append(dict(text="H<sub>2</sub> 1-0 S(2)/1-0 S(0)", x=px_x(ylabel_pos[i][0]),
                            y=px_y(ylabel_pos[i][1]), xref="paper", yref="paper", showarrow=False,
                            textangle=-90, xanchor="center", yanchor="middle",
                            font=dict(family=FONT, size=13, color=TXT)))

fig.update_layout(
    width=W, height=H, margin=dict(l=0, r=0, t=0, b=0),
    paper_bgcolor="white", plot_bgcolor="white", showlegend=False,
    annotations=annotations, **layout_axes,
)

fig.write_html("out.html")
